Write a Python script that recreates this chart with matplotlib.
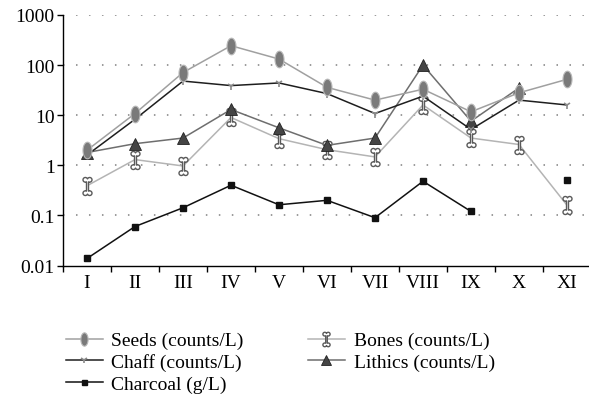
import numpy as np
import matplotlib.pyplot as plt
from matplotlib.path import Path
from matplotlib.ticker import FixedLocator, NullLocator

plt.rcParams['font.family'] = ['Liberation Serif', 'DejaVu Serif']

phases = ['I', 'II', 'III', 'IV', 'V', 'VI', 'VII', 'VIII', 'IX', 'X', 'XI']
seeds = [2.0, 10.8, 71, 244, 132, 36, 20, 33, 11.7, 28, 52]
chaff = [1.6, 8.3, 48, 39, 44, 27, 10.8, 24, 5.2, 20, 16]
bones = [0.39, 1.3, 0.97, 9, 3.4, 2.05, 1.47, 16, 3.5, 2.6, 0.16]
lithics = [1.8, 2.7, 3.5, 13, 5.6, 2.5, 3.5, 100, 7.6, 35, np.nan]
charcoal = [0.0138, 0.06, 0.142, 0.4, 0.163, 0.2, 0.09, 0.48, 0.12, np.nan, 0.52]


# seed marker: upright oval
t = np.linspace(0, 2 * np.pi, 40)
seed_marker = Path(np.column_stack([0.27 * np.cos(t), 0.5 * np.sin(t)]), closed=True)


# bone marker: shaft with two knobs on each end
def arc(cx, cy, r, a0, a1, n=14):
    a = np.radians(np.linspace(a0, a1, n))
    return np.column_stack([cx + r * np.cos(a), cy + r * np.sin(a)])


r, c, cy, hw = 0.13, 0.12, 0.37, 0.055
a_shaft = np.degrees(np.arccos((c - hw) / r))   # where knob meets the shaft
a_mid = np.degrees(np.arccos(c / r))            # where the two knobs meet
pts = np.vstack([
    arc(c, cy, r, -(180 - a_shaft), 180 - a_mid),
    arc(-c, cy, r, a_mid, 360 - a_shaft),
    arc(-c, -cy, r, a_shaft, 360 - a_mid),
    arc(c, -cy, r, 180 + a_mid, 540 - a_shaft),
])
bone_marker = Path(np.vstack([pts, pts[:1]]), closed=True)

fig = plt.figure(figsize=(5.89, 4.02), dpi=100)
ax = fig.add_axes([63 / 589, 1 - 266.5 / 402, 528 / 589, 250.5 / 402])

x = np.arange(len(phases))

ax.plot(x, charcoal, color='#111111', lw=1.1, marker='s', ms=4.5,
        mfc='#111111', mec='#111111', label='Charcoal (g/L)', zorder=3)
ax.plot(x, bones, color='#b4b4b4', lw=1.1, marker=bone_marker, ms=13,
        mfc='white', mec='#5a5a5a', mew=1.0, label='Bones (counts/L)', zorder=4)
ax.plot(x, lithics, color='#6e6e6e', lw=1.1, marker='^', ms=9,
        mfc='#454545', mec='#222222', mew=0.6, label='Lithics (counts/L)', zorder=5)
ax.plot(x, chaff, color='#1e1e1e', lw=1.1, marker='1', ms=6,
        mec='#8a8a8a', mew=1.2, label='Chaff (counts/L)', zorder=6)
ax.plot(x, seeds, color='#a0a0a0', lw=1.1, marker=seed_marker, ms=12,
        mfc='#7a7a7a', mec='#b8b8b8', mew=0.8, label='Seeds (counts/L)', zorder=7)

ax.set_yscale('log')
ax.set_ylim(0.01, 1000)
ax.set_xlim(-0.5, len(phases) - 0.5)

ax.yaxis.set_major_locator(FixedLocator([0.01, 0.1, 1, 10, 100, 1000]))
ax.yaxis.set_minor_locator(NullLocator())
ax.set_yticklabels(['0.01', '0.1', '1', '10', '100', '1000'])

ax.set_xticks(x)
ax.set_xticklabels(phases)
ax.set_xticks(np.arange(len(phases) + 1) - 0.5, minor=True)
ax.tick_params(axis='x', which='major', length=0, pad=6, labelsize=14)
ax.tick_params(axis='x', which='minor', length=4, width=1, direction='out')
ax.tick_params(axis='y', length=4, width=1, pad=2, labelsize=14)

for yv in [0.1, 1, 10, 100, 1000]:
    ax.axhline(yv, color='#808080', lw=1.1, ls=(0, (1, 7.5)), zorder=1)

ax.spines['top'].set_visible(False)
ax.spines['right'].set_visible(False)
ax.spines['left'].set_linewidth(1)
ax.spines['bottom'].set_linewidth(1)

handles, labels = ax.get_legend_handles_labels()
order = ['Seeds (counts/L)', 'Chaff (counts/L)', 'Charcoal (g/L)',
         'Bones (counts/L)', 'Lithics (counts/L)']
hmap = dict(zip(labels, handles))
leg = fig.legend([hmap[k] for k in order], order, ncol=2, frameon=False,
                 loc='upper left', bbox_to_anchor=(56 / 589, 1 - 323 / 402),
                 fontsize=14, handlelength=1.9, handletextpad=0.45,
                 columnspacing=3.3, labelspacing=0.2, borderpad=0,
                 markerscale=0.8)

fig.savefig('out.png', dpi=100)
